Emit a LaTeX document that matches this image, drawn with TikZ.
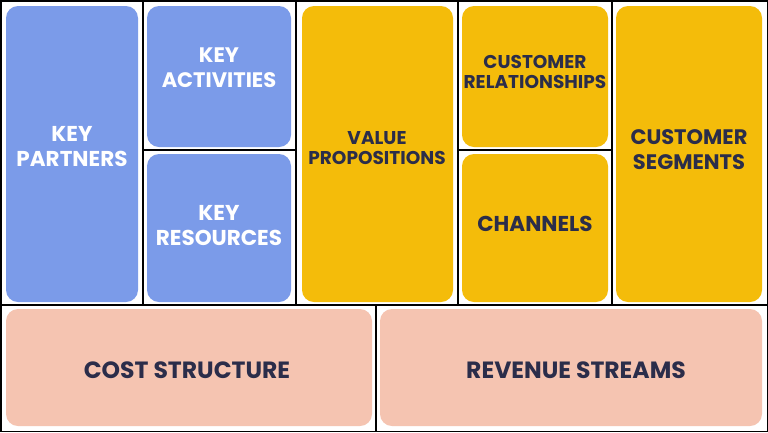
\documentclass[tikz,border=0pt]{standalone}
\usepackage{fontspec}
\setmainfont{Poppins}
\definecolor{bl}{HTML}{7B9BE9}
\definecolor{yl}{HTML}{F4BC0A}
\definecolor{pk}{HTML}{F5C4B1}
\definecolor{tx}{HTML}{2B2D4A}
\begin{document}
\begin{tikzpicture}[x=1pt,y=-1pt,
  cell/.style={rounded corners=12pt},
  lbl/.style={text=tx,align=center,inner sep=0pt},
  wl/.style={lbl,text=white}]
\useasboundingbox (0,0) rectangle (768,432);
\fill[white] (0,0) rectangle (768,432);
% boxes
\fill[bl,cell] (6,6) rectangle (138,302);
\fill[bl,cell] (147,6) rectangle (291,147);
\fill[bl,cell] (147,154) rectangle (291,302);
\fill[yl,cell] (302,6) rectangle (453,302);
\fill[yl,cell] (462,6) rectangle (608,147);
\fill[yl,cell] (462,154) rectangle (608,302);
\fill[yl,cell] (616,6) rectangle (762,302);
\fill[pk,cell] (6,309) rectangle (372,426);
\fill[pk,cell] (380,309) rectangle (762,426);
% grid lines
\draw[black,line width=1.5pt] (0.75,0.75) rectangle (767.25,431.25);
\draw[black,line width=1.5pt] (0,305) -- (768,305);
\draw[black,line width=1.5pt] (143,0) -- (143,305);
\draw[black,line width=1.5pt] (296,0) -- (296,305);
\draw[black,line width=1.5pt] (458,0) -- (458,305);
\draw[black,line width=1.5pt] (612,0) -- (612,305);
\draw[black,line width=1.5pt] (143,150) -- (296,150);
\draw[black,line width=1.5pt] (458,150) -- (612,150);
\draw[black,line width=1.5pt] (376,305) -- (376,432);
% labels
\node[wl,font=\bfseries\fontsize{21.5}{25}\selectfont] (kp) at (72,147) {KEY\\PARTNERS};
\node[wl,font=\bfseries\fontsize{21}{25}\selectfont] (ka) at (219,68) {KEY\\ACTIVITIES};
\node[wl,font=\bfseries\fontsize{21.5}{25}\selectfont] (kr) at (219,226) {KEY\\RESOURCES};
\node[lbl,font=\bfseries\fontsize{18.5}{20}\selectfont] (vp) at (377,148) {VALUE\\PROPOSITIONS};
\node[lbl,font=\bfseries\fontsize{18.5}{20}\selectfont] (cr) at (535,72) {CUSTOMER\\RELATIONSHIPS};
\node[lbl,font=\bfseries\fontsize{21.5}{25}\selectfont] (ch) at (535,224) {CHANNELS};
\node[lbl,font=\bfseries\fontsize{21}{25}\selectfont] (cs) at (689,150) {CUSTOMER\\SEGMENTS};
\node[lbl,font=\bfseries\fontsize{23.5}{24}\selectfont] (cost) at (187,370) {COST STRUCTURE};
\node[lbl,font=\bfseries\fontsize{23.5}{24}\selectfont] (rev) at (576,370) {REVENUE STREAMS};
\end{tikzpicture}
\end{document}
